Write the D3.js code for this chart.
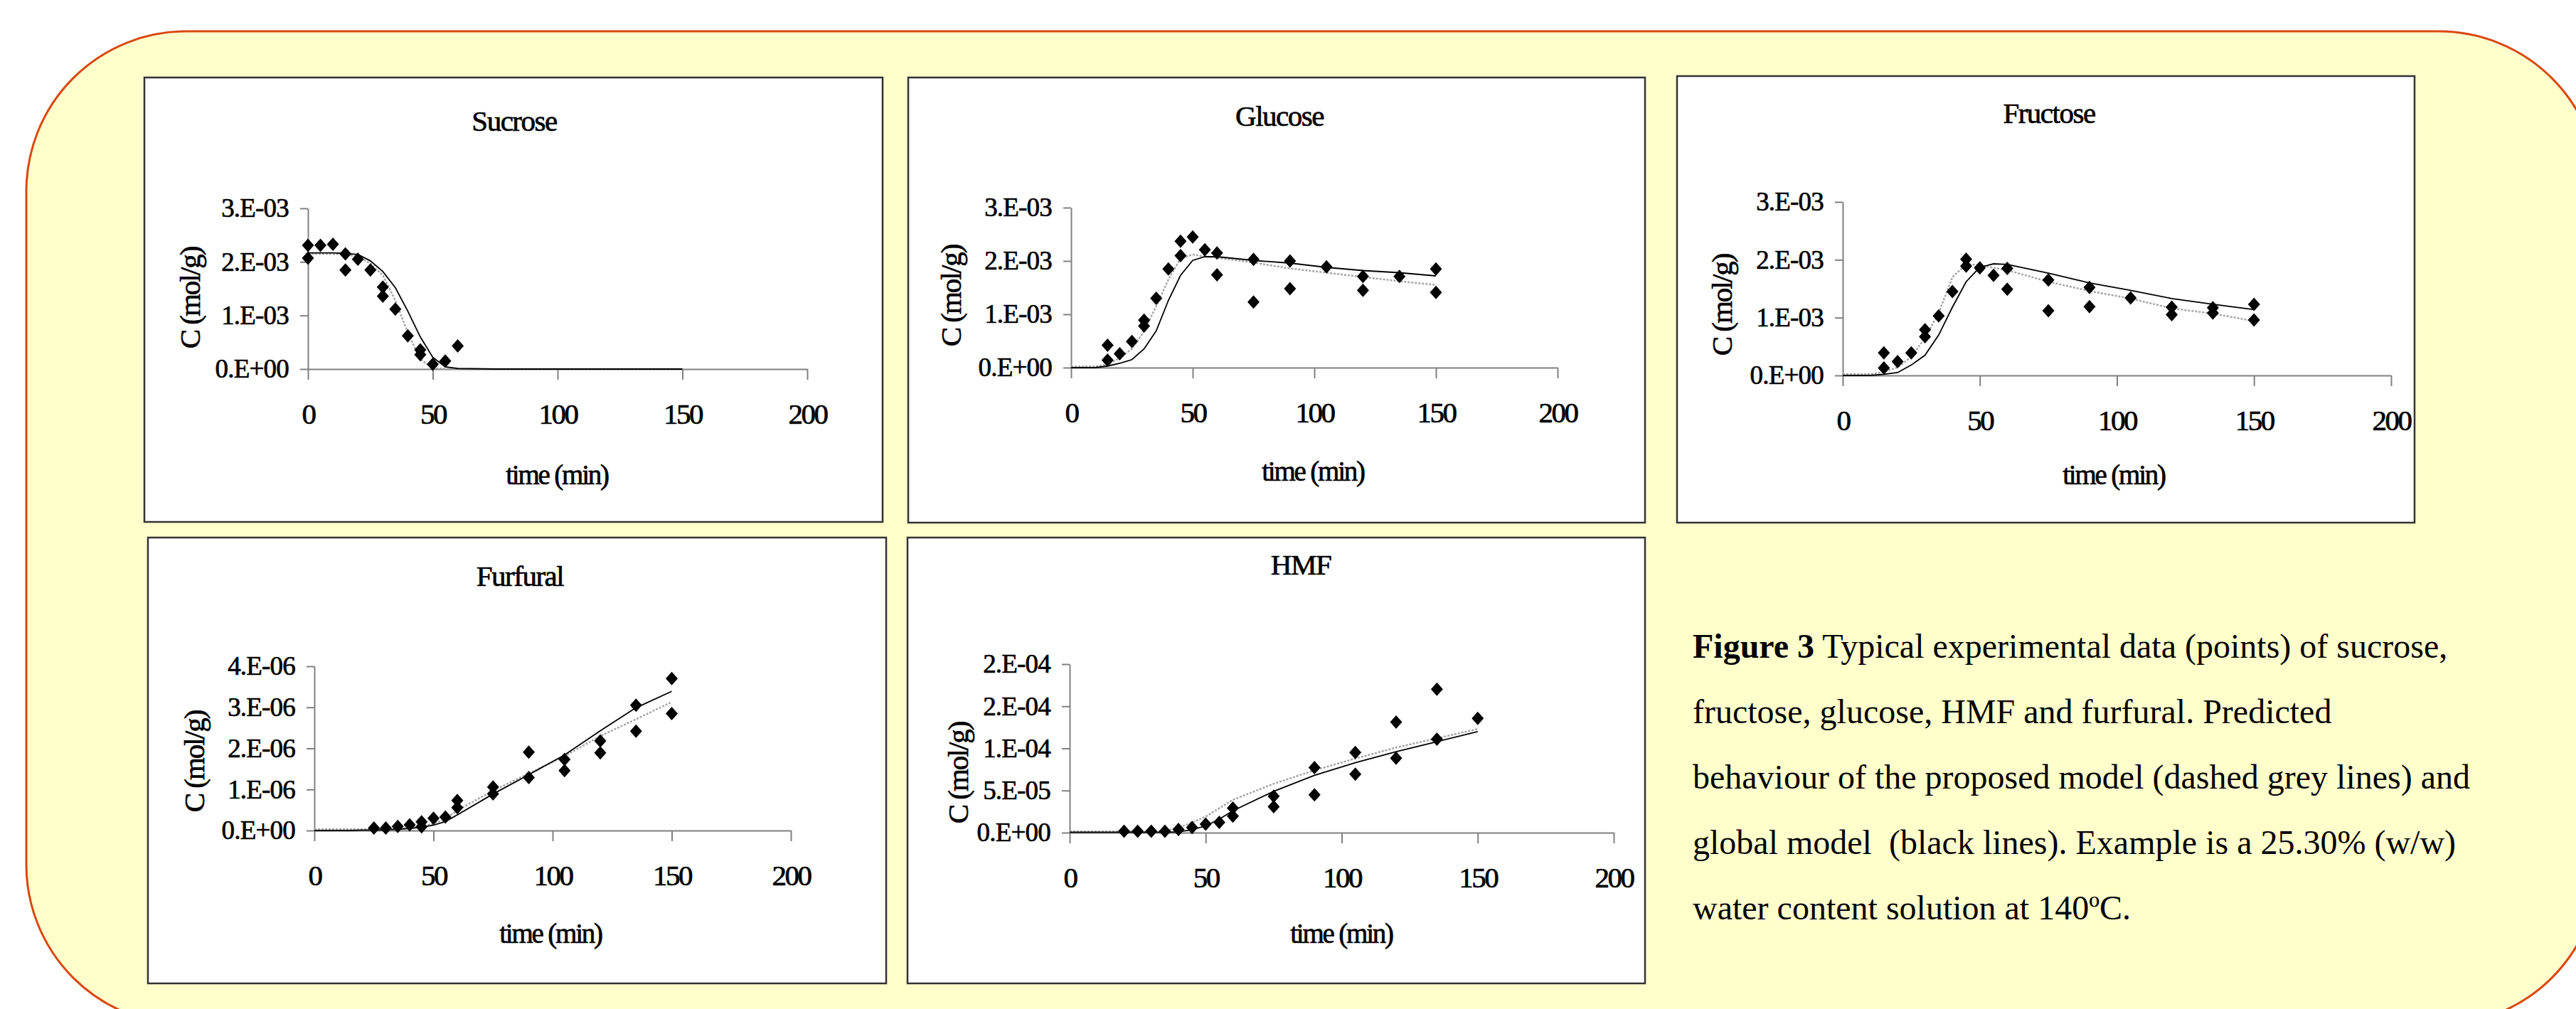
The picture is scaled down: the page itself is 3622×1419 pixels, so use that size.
<!DOCTYPE html>
<html>
<head>
<meta charset="utf-8">
<script src="https://cdn.jsdelivr.net/npm/d3@7"></script>
<style>
	body { margin: 0; background: #ffffff; }
	text { font-family: "Liberation Serif", "Times New Roman", serif; fill: #000; }
	.chart-text { stroke: #000; stroke-width: 0.7px; }
</style>
</head>
<body>
<div id="chart"></div>
<script>
// model curves are evaluated at the sampling times
var modelTime = [0, 5, 10, 15, 20, 25, 30, 35, 40, 45, 50, 55, 60, 75, 90, 105, 120, 135, 150];
var xTicks = [0, 50, 100, 150, 200];

// Sucrose (x 1e-3 mol/g)
var sucroseT = [0, 0, 5, 10, 15, 15, 20, 25, 30, 30, 35, 40, 45, 45, 50, 55, 60];
var sucroseC = [2.31, 2.07, 2.31, 2.33, 2.15, 1.85, 2.05, 1.85, 1.53, 1.36, 1.12, 0.62, 0.36, 0.27, 0.09, 0.15, 0.43];
var sucroseGlobal = [2.17, 2.17, 2.17, 2.16, 2.14, 2.02, 1.82, 1.52, 1.08, 0.60, 0.22, 0.04, 0.01, 0, 0, 0, 0, 0, 0];
var sucroseProposed = [2.15, 2.15, 2.15, 2.14, 2.10, 1.97, 1.75, 1.28, 0.68, 0.18, 0.02, 0, 0, 0, 0, 0, 0, 0, 0];
var sucroseTicks = [0, 1, 2, 3];
var sucroseLabels = ["0.E+00", "1.E-03", "2.E-03", "3.E-03"];

// Glucose (x 1e-3 mol/g)
var glucoseT = [15, 15, 20, 25, 30, 30, 35, 40, 45, 45, 50, 55, 60, 60, 75, 75, 90, 90, 105, 120, 120, 135, 150, 150];
var glucoseC = [0.42, 0.14, 0.26, 0.49, 0.89, 0.78, 1.30, 1.85, 2.37, 2.10, 2.45, 2.21, 2.15, 1.74, 2.03, 1.23, 2.00, 1.48, 1.89, 1.71, 1.45, 1.71, 1.85, 1.41];
var glucoseGlobal = [0, 0, 0, 0.03, 0.08, 0.15, 0.35, 0.69, 1.26, 1.73, 2.01, 2.08, 2.08, 2.01, 1.96, 1.88, 1.82, 1.78, 1.72];
var glucoseProposed = [0.02, 0.02, 0.02, 0.06, 0.18, 0.35, 0.68, 1.15, 1.65, 2.05, 2.12, 2.08, 2.06, 1.97, 1.86, 1.78, 1.70, 1.62, 1.55];
var glucoseTicks = [0, 1, 2, 3];
var glucoseLabels = ["0.E+00", "1.E-03", "2.E-03", "3.E-03"];

// Fructose (x 1e-3 mol/g)
var fructoseT = [15, 15, 20, 25, 30, 30, 35, 40, 45, 45, 50, 55, 60, 60, 75, 75, 90, 90, 105, 120, 120, 135, 135, 150, 150];
var fructoseC = [0.39, 0.13, 0.24, 0.39, 0.79, 0.67, 1.03, 1.45, 2.01, 1.89, 1.86, 1.73, 1.85, 1.49, 1.65, 1.12, 1.52, 1.19, 1.34, 1.18, 1.05, 1.17, 1.08, 1.23, 0.96];
var fructoseGlobal = [0, 0, 0, 0.02, 0.05, 0.18, 0.35, 0.70, 1.18, 1.62, 1.87, 1.93, 1.92, 1.77, 1.60, 1.47, 1.33, 1.23, 1.14];
var fructoseProposed = [0.02, 0.02, 0.02, 0.06, 0.14, 0.32, 0.65, 1.08, 1.70, 1.92, 1.91, 1.86, 1.82, 1.62, 1.46, 1.33, 1.16, 1.07, 0.94];
var fructoseTicks = [0, 1, 2, 3];
var fructoseLabels = ["0.E+00", "1.E-03", "2.E-03", "3.E-03"];

// Furfural (x 1e-6 mol/g)
var furfuralT = [25, 30, 35, 40, 45, 45, 50, 55, 60, 60, 75, 75, 90, 90, 105, 105, 120, 120, 135, 135, 150, 150];
var furfuralC = [0.06, 0.06, 0.10, 0.14, 0.21, 0.09, 0.30, 0.33, 0.73, 0.56, 1.06, 0.89, 1.91, 1.29, 1.73, 1.46, 2.18, 1.89, 3.05, 2.42, 3.70, 2.85];
var furfuralGlobal = [0, 0, 0, 0, 0.01, 0.01, 0.02, 0.03, 0.05, 0.08, 0.13, 0.22, 0.38, 0.89, 1.36, 1.84, 2.43, 2.99, 3.39];
var furfuralProposed = [0.03, 0.03, 0.03, 0.03, 0.03, 0.03, 0.03, 0.04, 0.06, 0.10, 0.17, 0.28, 0.49, 0.97, 1.39, 1.81, 2.30, 2.71, 3.13];
var furfuralTicks = [0, 1, 2, 3, 4];
var furfuralLabels = ["0.E+00", "1.E-06", "2.E-06", "3.E-06", "4.E-06"];

// HMF (x 1e-5 mol/g)
var hmfT = [20, 25, 30, 35, 40, 45, 50, 55, 60, 60, 75, 75, 90, 90, 105, 105, 120, 120, 135, 135, 150];
var hmfC = [0.17, 0.17, 0.17, 0.17, 0.37, 0.61, 1.02, 1.22, 2.91, 1.96, 4.33, 3.08, 7.72, 4.50, 9.51, 6.94, 13.13, 8.83, 17.02, 11.10, 13.57];
var hmfGlobal = [0.05, 0.05, 0.05, 0.05, 0.05, 0.05, 0.05, 0.05, 0.1, 0.35, 0.8, 1.6, 2.6, 4.9, 6.8, 8.3, 9.6, 10.8, 12.0];
var hmfProposed = [0.15, 0.15, 0.15, 0.15, 0.15, 0.15, 0.15, 0.2, 0.6, 1.2, 1.9, 2.9, 3.9, 5.8, 7.4, 8.8, 10.1, 11.2, 12.3];
var hmfTicks = [0, 5, 10, 15, 20];
var hmfLabels = ["0.E+00", "5.E-05", "1.E-04", "2.E-04", "2.E-04"];

var captionLines = [
	" Typical experimental data (points) of sucrose,",
	"fructose, glucose, HMF and furfural. Predicted",
	"behaviour of the proposed model (dashed grey lines) and",
	"global model  (black lines). Example is a 25.30% (w/w)",
	"water content solution at 140\u00baC."
];

var width = 3622;
var height = 1419;
var svg = d3.select("#chart")
	.append("svg")
	.attr("width", width)
	.attr("height", height);

// poster background
svg.append("rect")
	.attr("x", 37)
	.attr("y", 44)
	.attr("width", 3617)
	.attr("height", 1397)
	.attr("rx", 225)
	.attr("ry", 225)
	.attr("fill", "#ffffcc")
	.attr("stroke", "#d9480f")
	.attr("stroke-width", 3);

var panels = [
	{title: "Sucrose", t: sucroseT, c: sucroseC, glob: sucroseGlobal, prop: sucroseProposed, ticks: sucroseTicks, labels: sucroseLabels,
		box: [203, 109, 1038, 625], x0: 433, x1: 1135, y0: 519, y1: 293, titleXY: [723, 170], xlabXY: [783, 667], ylabXY: [267, 419]},
	{title: "Glucose", t: glucoseT, c: glucoseC, glob: glucoseGlobal, prop: glucoseProposed, ticks: glucoseTicks, labels: glucoseLabels,
		box: [1277, 109, 1036, 626], x0: 1506, x1: 2190, y0: 517, y1: 292, titleXY: [1799, 163], xlabXY: [1846, 662], ylabXY: [1337, 416]},
	{title: "Fructose", t: fructoseT, c: fructoseC, glob: fructoseGlobal, prop: fructoseProposed, ticks: fructoseTicks, labels: fructoseLabels,
		box: [2358, 107, 1037, 628], x0: 2591, x1: 3362, y0: 528, y1: 284, titleXY: [2881, 159], xlabXY: [2972, 667], ylabXY: [2421, 429]},
	{title: "Furfural", t: furfuralT, c: furfuralC, glob: furfuralGlobal, prop: furfuralProposed, ticks: furfuralTicks, labels: furfuralLabels,
		box: [208, 756, 1038, 627], x0: 442, x1: 1112, y0: 1168, y1: 937, titleXY: [731, 810], xlabXY: [774, 1312], ylabXY: [273, 1071]},
	{title: "HMF", t: hmfT, c: hmfC, glob: hmfGlobal, prop: hmfProposed, ticks: hmfTicks, labels: hmfLabels,
		box: [1276, 756, 1037, 627], x0: 1504, x1: 2269, y0: 1171, y1: 934, titleXY: [1829, 794], xlabXY: [1886, 1312], ylabXY: [1347, 1087]}
];

var fontFam = "Liberation Serif, Times New Roman, serif";

panels.forEach(function(p) {
	var g = svg.append("g");

	g.append("rect")
		.attr("x", p.box[0])
		.attr("y", p.box[1])
		.attr("width", p.box[2])
		.attr("height", p.box[3])
		.attr("fill", "#ffffff")
		.attr("stroke", "#333333")
		.attr("stroke-width", 2.5);

	var xScale = d3.scaleLinear()
		.domain([0, 200])
		.range([p.x0, p.x1]);
	var yScale = d3.scaleLinear()
		.domain([p.ticks[0], p.ticks[p.ticks.length - 1]])
		.range([p.y0, p.y1]);

	var xAxis = d3.axisBottom(xScale)
		.tickValues(xTicks)
		.tickSize(15)
		.tickSizeOuter(0)
		.tickPadding(33)
		.tickFormat(d3.format("d"));
	var yAxis = d3.axisLeft(yScale)
		.tickValues(p.ticks)
		.tickSize(11)
		.tickSizeOuter(0)
		.tickPadding(16)
		.tickFormat(function(d, i) { return p.labels[i]; });

	var gx = g.append("g")
		.attr("transform", "translate(0," + p.y0 + ")")
		.call(xAxis);
	gx.attr("font-family", fontFam).attr("font-size", 41);
	gx.selectAll("text").attr("letter-spacing", -2.5);

	var gy = g.append("g")
		.attr("transform", "translate(" + p.x0 + ",0)")
		.call(yAxis);
	gy.attr("font-family", fontFam).attr("font-size", 37);
	gy.selectAll("text").attr("letter-spacing", -0.8);

	[gx, gy].forEach(function(a) {
		a.selectAll("path, line").attr("stroke", "#808080").attr("stroke-width", 2);
		a.selectAll("text").attr("fill", "#000").attr("class", "chart-text");
	});

	// model lines
	var line = d3.line()
		.x(function(d, i) { return xScale(modelTime[i]); })
		.y(function(d) { return yScale(d); });

	g.append("path")
		.datum(p.prop)
		.attr("fill", "none")
		.attr("stroke", "#a6a6a6")
		.attr("stroke-width", 2.5)
		.attr("stroke-dasharray", "3,2")
		.attr("d", line);

	g.append("path")
		.datum(p.glob)
		.attr("fill", "none")
		.attr("stroke", "#000")
		.attr("stroke-width", 1.8)
		.attr("d", line);

	// experimental points
	var pts = p.t.map(function(t, i) { return {t: t, c: p.c[i]}; });
	g.selectAll("path.pt")
		.data(pts)
		.enter()
		.append("path")
		.attr("class", "pt")
		.attr("transform", function(d) {
			return "translate(" + xScale(d.t) + "," + yScale(d.c) + ")";
		})
		.attr("d", "M0,-9.5L8.5,0L0,9.5L-8.5,0Z")
		.attr("fill", "#000");

	g.append("text")
		.attr("class", "chart-text")
		.attr("x", p.titleXY[0])
		.attr("y", p.titleXY[1])
		.attr("dy", "0.35em")
		.attr("text-anchor", "middle")
		.attr("font-size", 41)
		.attr("letter-spacing", -1.5)
		.text(p.title);

	g.append("text")
		.attr("class", "chart-text")
		.attr("x", p.xlabXY[0])
		.attr("y", p.xlabXY[1])
		.attr("dy", "0.35em")
		.attr("text-anchor", "middle")
		.attr("font-size", 39)
		.attr("letter-spacing", -2.2)
		.text("time (min)");

	g.append("text")
		.attr("class", "chart-text")
		.attr("transform", "translate(" + p.ylabXY[0] + "," + p.ylabXY[1] + ") rotate(-90)")
		.attr("dy", "0.35em")
		.attr("text-anchor", "middle")
		.attr("font-size", 41)
		.attr("letter-spacing", -2)
		.text("C (mol/g)");
});

// figure caption
var cap = svg.append("text")
	.attr("font-size", 48)
	.style("white-space", "pre");
captionLines.forEach(function(s, i) {
	var ts = cap.append("tspan")
		.attr("x", 2380)
		.attr("y", 925 + i * 92);
	if (i === 0) {
		ts.append("tspan").attr("font-weight", "bold").text("Figure 3");
		ts.append("tspan").text(s);
	} else {
		ts.text(s);
	}
});
</script>
</body>
</html>
